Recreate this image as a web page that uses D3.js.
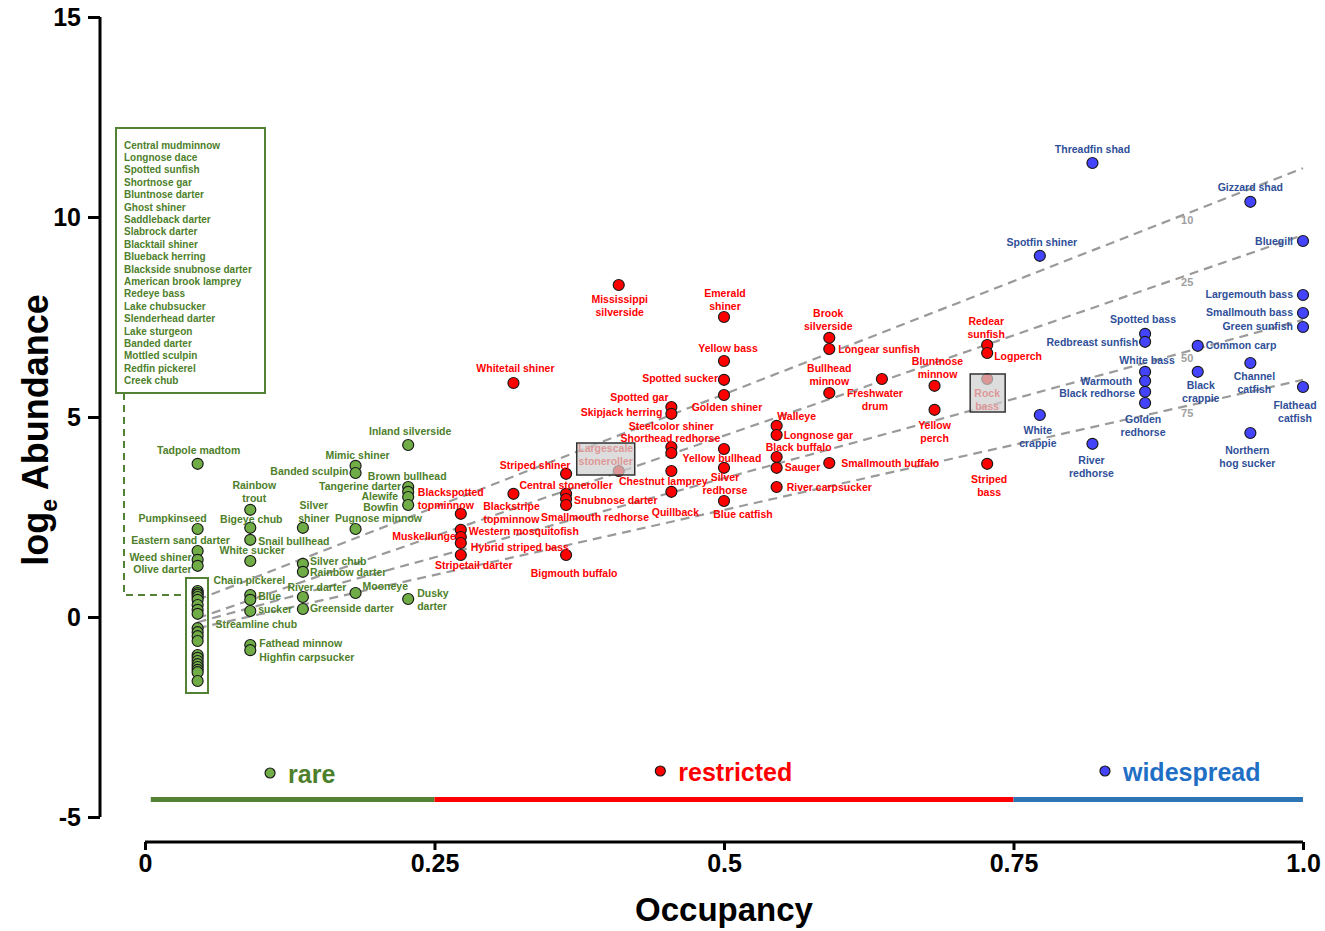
<!DOCTYPE html>
<html>
<head>
<meta charset="utf-8">
<script src="https://cdn.jsdelivr.net/npm/d3@7"></script>
<style>
  body { margin: 0; background: #fff; }
  text { font-family: Arial, "Liberation Sans", sans-serif; }
</style>
</head>
<body>
<div id="chart"></div>
<script>
// number of sites sampled; occupancy = sites / nSites
const nSites = 22;

// [species, sites occupied, log abundance]
const rareSpecies = [
  ["Tadpole madtom", 1, 3.83], ["Pumpkinseed", 1, 2.2], ["Eastern sand darter", 1, 1.65],
  ["Weed shiner", 1, 1.43], ["Olive darter", 1, 1.28],
  ["Rainbow trout", 2, 2.68], ["Bigeye chub", 2, 2.23], ["Snail bullhead", 2, 1.93],
  ["White sucker", 2, 1.4], ["Chain pickerel", 2, 0.55], ["Blue sucker", 2, 0.43],
  ["Streamline chub", 2, 0.15], ["Fathead minnow", 2, -0.7], ["Highfin carpsucker", 2, -0.83],
  ["Silver shiner", 3, 2.23], ["Silver chub", 3, 1.33], ["Rainbow darter", 3, 1.13],
  ["River darter", 3, 0.5], ["Greenside darter", 3, 0.2],
  ["Mimic shiner", 4, 3.78], ["Banded sculpin", 4, 3.6], ["Pugnose minnow", 4, 2.2],
  ["Mooneye", 4, 0.6],
  ["Inland silverside", 5, 4.3], ["Brown bullhead", 5, 3.25], ["Tangerine darter", 5, 3.13],
  ["Alewife", 5, 3.0], ["Bowfin", 5, 2.8], ["Dusky darter", 5, 0.45]
];

// single-site species listed in the boxed legend
const boxedRareNames = [
  "Central mudminnow", "Longnose dace", "Spotted sunfish", "Shortnose gar", "Bluntnose darter",
  "Ghost shiner", "Saddleback darter", "Slabrock darter", "Blacktail shiner", "Blueback herring",
  "Blackside snubnose darter", "American brook lamprey", "Redeye bass", "Lake chubsucker",
  "Slenderhead darter", "Lake sturgeon", "Banded darter", "Mottled sculpin", "Redfin pickerel",
  "Creek chub"
];
const boxedRareAbund = [
  0.65, 0.6, 0.56, 0.5, 0.43, 0.3, 0.18, 0.08, -0.28, -0.38, -0.48, -0.6,
  -0.95, -1.02, -1.1, -1.18, -1.25, -1.32, -1.38, -1.6
];

const restrictedSpecies = [
  ["Blackspotted topminnow", 6, 2.58], ["Muskellunge", 6, 2.18], ["Western mosquitofish", 6, 2.0],
  ["Hybrid striped bass", 6, 1.85], ["Stripetail darter", 6, 1.55],
  ["Whitetail shiner", 7, 5.85], ["Blackstripe topminnow", 7, 3.08],
  ["Striped shiner", 8, 3.58], ["Central stoneroller", 8, 3.08], ["Snubnose darter", 8, 2.95],
  ["Smallmouth redhorse", 8, 2.8], ["Bigmouth buffalo", 8, 1.55],
  ["Mississippi silverside", 9, 8.3], ["Largescale stoneroller", 9, 3.65],
  ["Spotted gar", 10, 5.25], ["Skipjack herring", 10, 5.08], ["Steelcolor shiner", 10, 4.25],
  ["Shorthead redhorse", 10, 4.1], ["Chestnut lamprey", 10, 3.65], ["Quillback", 10, 3.13],
  ["Emerald shiner", 11, 7.5], ["Yellow bass", 11, 6.4], ["Spotted sucker", 11, 5.93],
  ["Golden shiner", 11, 5.55], ["Yellow bullhead", 11, 4.2], ["Silver redhorse", 11, 3.73],
  ["Blue catfish", 11, 2.9],
  ["Walleye", 12, 4.78], ["Longnose gar", 12, 4.55], ["Black buffalo", 12, 4.0],
  ["Sauger", 12, 3.73], ["River carpsucker", 12, 3.25],
  ["Brook silverside", 13, 6.98], ["Longear sunfish", 13, 6.7], ["Bullhead minnow", 13, 5.6],
  ["Smallmouth buffalo", 13, 3.85],
  ["Freshwater drum", 14, 5.95],
  ["Bluntnose minnow", 15, 5.78], ["Yellow perch", 15, 5.18],
  ["Redear sunfish", 16, 6.8], ["Logperch", 16, 6.6], ["Rock bass", 16, 5.95], ["Striped bass", 16, 3.83]
];

const widespreadSpecies = [
  ["Spotfin shiner", 17, 9.03], ["White crappie", 17, 5.05],
  ["Threadfin shad", 18, 11.35], ["River redhorse", 18, 4.33],
  ["Spotted bass", 19, 7.08], ["Redbreast sunfish", 19, 6.88], ["White bass", 19, 6.13],
  ["Warmouth", 19, 5.9], ["Black redhorse", 19, 5.63], ["Golden redhorse", 19, 5.35],
  ["Common carp", 20, 6.78], ["Black crappie", 20, 6.13],
  ["Gizzard shad", 21, 10.38], ["Channel catfish", 21, 6.35], ["Northern hog sucker", 21, 4.6],
  ["Bluegill", 22, 9.4], ["Largemouth bass", 22, 8.05], ["Smallmouth bass", 22, 7.6],
  ["Green sunfish", 22, 7.25], ["Flathead catfish", 22, 5.75]
];

// species shown greyed out inside a box
const greyedSpecies = ["Largescale stoneroller", "Rock bass"];

// quantile regression lines: [quantile, value at first site, value at full occupancy]
const quantileLines = [[10, 0.43, 11.22], [25, -0.03, 9.55], [50, -0.13, 7.43], [75, -0.28, 5.93]];

// occupancy classes for the bottom legend
const classes = [
  { name: "rare", from: 0.005, to: 0.25 },
  { name: "restricted", from: 0.25, to: 0.75 },
  { name: "widespread", from: 0.75, to: 1.0 }
];

const xTicks = [0, 0.25, 0.5, 0.75, 1.0];
const xTickLabels = ["0", "0.25", "0.5", "0.75", "1.0"];
const yTicks = [-5, 0, 5, 10, 15];
const yTickLabels = ["-5", "0", "5", "10", "15"];

// label placement: [dx, dy, anchor(s/m/e), two lines]
const labelPos = {
  "Tadpole madtom": [1, -14, "m"], "Pumpkinseed": [-25, -11, "m"], "Eastern sand darter": [-17, -11, "m"],
  "Weed shiner": [-6, -3, "e"], "Olive darter": [-6, 3, "e"], "Rainbow trout": [4, -25, "m", 1],
  "Bigeye chub": [1, -9, "m"], "Snail bullhead": [8, 1, "s"], "White sucker": [2, -11, "m"],
  "Chain pickerel": [-1, -15, "m"], "Blue sucker": [8, -4, "s", 1], "Streamline chub": [6, 13, "m"],
  "Fathead minnow": [9, -2, "s"], "Highfin carpsucker": [9, 7, "s"], "Silver shiner": [11, -23, "m", 1],
  "Silver chub": [7, -3, "s"], "Rainbow darter": [7, 0, "s"], "River darter": [14, -10, "m"],
  "Greenside darter": [7, -1, "s"], "Mimic shiner": [2, -11, "m"], "Banded sculpin": [-7, -2, "e"],
  "Pugnose minnow": [23, -11, "m"], "Mooneye": [7, -7, "s"], "Inland silverside": [2, -14, "m"],
  "Brown bullhead": [-1, -11, "m"], "Tangerine darter": [-7, -6, "e"], "Alewife": [-10, -1.5, "e"],
  "Bowfin": [-10, 2, "e"], "Dusky darter": [9, -6, "s", 1],
  "Blackspotted topminnow": [-43, -22, "s", 1], "Muskellunge": [-5, 6, "e"],
  "Western mosquitofish": [8, -6, "s"], "Hybrid striped bass": [10, 4, "s"],
  "Stripetail darter": [13, 10, "m"], "Whitetail shiner": [2, -15, "m"],
  "Blackstripe topminnow": [-2, 12, "m", 1], "Striped shiner": [-31, -9, "m"],
  "Central stoneroller": [0, -9, "m"], "Snubnose darter": [8, 1, "s"],
  "Smallmouth redhorse": [29, 12, "m"], "Bigmouth buffalo": [8, 18, "m"],
  "Mississippi silverside": [1, 14, "m", 1], "Largescale stoneroller": [-13, -23, "m", 1],
  "Spotted gar": [-32, -10, "m"], "Skipjack herring": [-9, -2, "e"], "Steelcolor shiner": [0, -21, "m"],
  "Shorthead redhorse": [-1, -15, "m"], "Chestnut lamprey": [-8, 10, "m"], "Quillback": [4, 20, "m"],
  "Emerald shiner": [1, -24, "m", 1], "Yellow bass": [4, -13, "m"], "Spotted sucker": [-6, -2, "e"],
  "Golden shiner": [3, 12, "m"], "Yellow bullhead": [-2, 9, "m"], "Silver redhorse": [1, 9, "m", 1],
  "Blue catfish": [19, 13, "m"], "Walleye": [20, -10, "m"], "Longnose gar": [7, 0, "s"],
  "Black buffalo": [22, -10, "m"], "Sauger": [8, -1, "s"], "River carpsucker": [10, 0, "s"],
  "Brook silverside": [-1, -25, "m", 1], "Longear sunfish": [9, 0, "s"],
  "Bullhead minnow": [0, -25, "m", 1], "Smallmouth buffalo": [12, 0, "s"],
  "Freshwater drum": [-7, 14, "m", 1], "Bluntnose minnow": [3, -25, "m", 1],
  "Yellow perch": [0, 15, "m", 1], "Redear sunfish": [-1, -24, "m", 1], "Logperch": [7, 3, "s"],
  "Rock bass": [0, 14, "m", 1], "Striped bass": [2, 15, "m", 1],
  "Spotfin shiner": [2, -14, "m"], "White crappie": [-2, 15, "m", 1], "Threadfin shad": [0, -14, "m"],
  "River redhorse": [-1, 16, "m", 1], "Spotted bass": [-2, -15, "m"], "Redbreast sunfish": [-7, 0, "e"],
  "White bass": [2, -12, "m"], "Warmouth": [-13, 0, "e"], "Black redhorse": [-10, 1, "e"],
  "Golden redhorse": [-2, 16, "m", 1], "Common carp": [8, -1, "s"], "Black crappie": [3, 13, "m", 1],
  "Gizzard shad": [0, -15, "m"], "Channel catfish": [4, 13, "m", 1], "Northern hog sucker": [-3, 17, "m", 1],
  "Bluegill": [-10, 0, "e"], "Largemouth bass": [-10, -1, "e"], "Smallmouth bass": [-10, -1, "e"],
  "Green sunfish": [-10, -1, "e"], "Flathead catfish": [-8, 18, "m", 1]
};

// box around greyed points, offsets from the point
const greyBoxes = { "Largescale stoneroller": [-42, -28, 58, 32], "Rock bass": [-17, -5, 35, 38] };

const colors = {
  rare: { fill: "#70ad47", text: "#4e7f2b", legend: "#4e7f2b", bar: "#548235" },
  restricted: { fill: "#ff0000", text: "#ff0000", legend: "#ff0000", bar: "#ff0000" },
  widespread: { fill: "#4444ff", text: "#2f4f99", legend: "#1f6fc5", bar: "#2e75b6" }
};

const width = 1325, height = 931;
const svg = d3.select("#chart").append("svg")
  .attr("width", width).attr("height", height);

const x = d3.scaleLinear().domain([0, 1]).range([145, 1303]);
const y = d3.scaleLinear().domain([-5, 15]).range([817, 17]);
const occ = s => s / nSites;

// axes
const yAxis = d3.axisLeft(y).tickValues(yTicks).tickSize(12).tickPadding(7)
  .tickFormat((d, i) => yTickLabels[i]);
const xAxis = d3.axisBottom(x).tickValues(xTicks).tickSize(8).tickPadding(4)
  .tickFormat((d, i) => xTickLabels[i]);

const gy = svg.append("g").attr("transform", "translate(100,0)").call(yAxis);
const gx = svg.append("g").attr("transform", "translate(0,842)").call(xAxis);
[gx, gy].forEach(g => {
  g.select(".domain").attr("stroke", "#000").attr("stroke-width", 3);
  g.selectAll(".tick line").attr("stroke", "#000").attr("stroke-width", 3);
  g.selectAll(".tick text").attr("fill", "#000").style("font-size", "25px")
    .style("font-weight", "bold").style("font-family", "Arial, 'Liberation Sans', sans-serif");
});
gx.select(".domain").attr("d", "M145,0H1303");
gy.select(".domain").attr("d", "M0,17V817");

svg.append("text")
  .attr("x", 724).attr("y", 921).attr("text-anchor", "middle")
  .style("font-size", "33px").style("font-weight", "bold")
  .text("Occupancy");

const ylab = svg.append("text")
  .attr("transform", "translate(48,430) rotate(-90)")
  .attr("text-anchor", "middle")
  .style("font-size", "36px").style("font-weight", "bold");
ylab.append("tspan").text("log");
ylab.append("tspan").attr("dy", 9).style("font-size", "23px").text("e");
ylab.append("tspan").attr("dy", -9).text(" Abundance");

// quantile lines
const qg = svg.append("g");
quantileLines.forEach(([q, a, b]) => {
  qg.append("line")
    .attr("x1", x(occ(1))).attr("y1", y(a))
    .attr("x2", x(1)).attr("y2", y(b))
    .attr("stroke", "#9a9a9a").attr("stroke-width", 2.2)
    .attr("stroke-dasharray", "9,6");
  const xl = 0.9;
  const yl = a + (b - a) * (xl - occ(1)) / (1 - occ(1));
  qg.append("text")
    .attr("x", x(xl)).attr("y", y(yl) + 11)
    .attr("text-anchor", "middle")
    .attr("fill", "#a0a0a0").style("font-size", "11px").style("font-weight", "bold")
    .text(q);
});

// boxed list of single-site rare species
const bx = svg.append("g");
bx.append("rect").attr("x", 116).attr("y", 128).attr("width", 149).attr("height", 265)
  .attr("fill", "none").attr("stroke", colors.rare.bar).attr("stroke-width", 2);
bx.selectAll("text.list").data(boxedRareNames).enter().append("text")
  .attr("x", 124).attr("y", (d, i) => 145 + i * 12.4)
  .attr("dominant-baseline", "central")
  .attr("fill", colors.rare.text).style("font-size", "10px").style("font-weight", "bold")
  .text(d => d);
const yTopPts = y(d3.max(boxedRareAbund)) - 13;
const yBotPts = y(d3.min(boxedRareAbund)) + 12;
bx.append("path")
  .attr("d", `M124,393V${y(0.55)}H186`)
  .attr("fill", "none").attr("stroke", colors.rare.bar).attr("stroke-width", 2)
  .attr("stroke-dasharray", "7,5");
bx.append("rect").attr("x", 186).attr("y", yTopPts).attr("width", 22).attr("height", yBotPts - yTopPts)
  .attr("fill", "none").attr("stroke", colors.rare.bar).attr("stroke-width", 2);

// all points
const points = [];
rareSpecies.forEach(d => points.push({ name: d[0], s: d[1], v: d[2], cls: "rare" }));
boxedRareNames.forEach((n, i) => points.push({ name: n, s: 1, v: boxedRareAbund[i], cls: "rare", boxed: true }));
restrictedSpecies.forEach(d => points.push({ name: d[0], s: d[1], v: d[2], cls: "restricted" }));
widespreadSpecies.forEach(d => points.push({ name: d[0], s: d[1], v: d[2], cls: "widespread" }));

svg.append("g").selectAll("circle").data(points).enter().append("circle")
  .attr("cx", d => x(occ(d.s)))
  .attr("cy", d => y(d.v))
  .attr("r", 5.5)
  .attr("fill", d => colors[d.cls].fill)
  .attr("stroke", "#1a1a1a").attr("stroke-width", 1.2);

// labels
const lg = svg.append("g");
points.filter(d => labelPos[d.name]).forEach(d => {
  const [dx, dy, a, two] = labelPos[d.name];
  const px = x(occ(d.s)), py = y(d.v);
  const t = lg.append("text")
    .attr("x", px + dx).attr("y", py + dy)
    .attr("dominant-baseline", "central")
    .attr("text-anchor", a === "s" ? "start" : a === "e" ? "end" : "middle")
    .attr("fill", colors[d.cls].text)
    .style("font-size", "10.5px").style("font-weight", "bold");
  if (two) {
    const i = d.name.indexOf(" ");
    t.append("tspan").attr("x", px + dx).text(d.name.slice(0, i));
    t.append("tspan").attr("x", px + dx).attr("dy", 13).text(d.name.slice(i + 1));
  } else {
    t.text(d.name);
  }
});

// grey boxes over faded species
points.filter(d => greyedSpecies.includes(d.name)).forEach(d => {
  const [bx0, by0, bw, bh] = greyBoxes[d.name];
  svg.append("rect")
    .attr("x", x(occ(d.s)) + bx0).attr("y", y(d.v) + by0)
    .attr("width", bw).attr("height", bh)
    .attr("fill", "#d0d0d0").attr("fill-opacity", 0.72)
    .attr("stroke", "#333").attr("stroke-width", 1.5);
});

// legend: class bars and markers
const leg = svg.append("g");
leg.selectAll("rect").data(classes).enter().append("rect")
  .attr("x", d => x(d.from)).attr("y", 797)
  .attr("width", d => x(d.to) - x(d.from)).attr("height", 5)
  .attr("fill", d => colors[d.name].bar);
const legPos = { rare: [0.108, 773], restricted: [0.445, 771], widespread: [0.829, 771] };
classes.forEach(c => {
  const [lx, ly] = legPos[c.name];
  leg.append("circle").attr("cx", x(lx)).attr("cy", ly).attr("r", 5)
    .attr("fill", colors[c.name].fill).attr("stroke", "#1a1a1a").attr("stroke-width", 1.2);
  leg.append("text").attr("x", x(lx) + 18).attr("y", ly + 1)
    .attr("dominant-baseline", "central")
    .attr("fill", colors[c.name].legend)
    .style("font-size", "25px").style("font-weight", "bold")
    .text(c.name);
});
</script>
</body>
</html>
